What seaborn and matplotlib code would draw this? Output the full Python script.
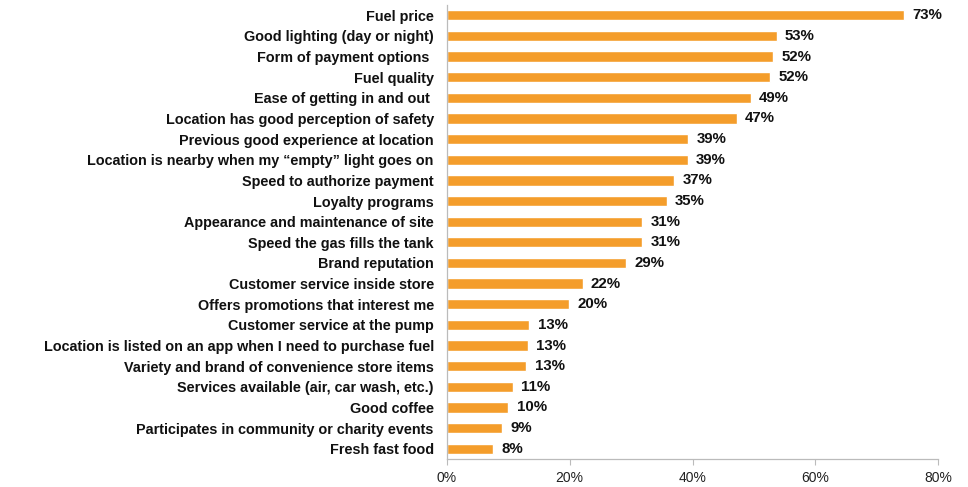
import matplotlib
matplotlib.use("Agg")
import matplotlib.pyplot as plt
import seaborn as sns
import pandas as pd
import numpy as np

categories = [
    "Fuel price",
    "Good lighting (day or night)",
    "Form of payment options ",
    "Fuel quality",
    "Ease of getting in and out ",
    "Location has good perception of safety",
    "Previous good experience at location",
    "Location is nearby when my \u201cempty\u201d light goes on",
    "Speed to authorize payment",
    "Loyalty programs",
    "Appearance and maintenance of site",
    "Speed the gas fills the tank",
    "Brand reputation",
    "Customer service inside store",
    "Offers promotions that interest me",
    "Customer service at the pump",
    "Location is listed on an app when I need to purchase fuel",
    "Variety and brand of convenience store items",
    "Services available (air, car wash, etc.)",
    "Good coffee",
    "Participates in community or charity events",
    "Fresh fast food",
]
values = [74.5, 53.7, 53.1, 52.6, 49.5, 47.2, 39.3, 39.2, 37.0, 35.8, 31.8, 31.8,
          29.2, 22.1, 19.9, 13.4, 13.2, 12.9, 10.7, 10.0, 9.0, 7.5]
value_labels = ["73%", "53%", "52%", "52%", "49%", "47%", "39%", "39%", "37%", "35%",
                "31%", "31%", "29%", "22%", "20%", "13%", "13%", "13%", "11%", "10%",
                "9%", "8%"]
x_ticks = [0, 20, 40, 60, 80]
x_tick_labels = ["0%", "20%", "40%", "60%", "80%"]

df = pd.DataFrame({"category": categories, "value": values})

sns.set_theme(style="white")
plt.rcParams["font.family"] = ["Liberation Sans", "DejaVu Sans"]

fig = plt.figure(figsize=(9.68, 4.87), dpi=100)
ax = fig.add_axes([447 / 968, 1 - 459 / 487, (938 - 447) / 968, (459 - 5) / 487])

bar_color = "#F49D2B"
sns.barplot(data=df, x="value", y="category", orient="h", color=bar_color,
            width=0.5, saturation=1, ax=ax)

ax.set_xlim(0, 80)
ax.set_ylim(len(categories) - 0.5, -0.5)
ax.set_xticks(x_ticks)
ax.set_xticklabels(x_tick_labels, fontsize=10, color="#222222")
ax.set_xlabel("")
ax.set_ylabel("")

for lab in ax.get_yticklabels():
    lab.set_fontweight("bold")
    lab.set_fontsize(10.4)
    lab.set_color("#111111")

ax.tick_params(axis="y", which="major", length=0, pad=9.5)
ax.set_yticks(np.arange(-0.5, len(categories), 1), minor=True)
ax.tick_params(axis="y", which="minor", length=4, width=0.8, color="#BBBBBB", direction="out")
ax.tick_params(axis="x", which="major", length=4, width=0.8, color="#BBBBBB",
               direction="out", pad=5, bottom=True)

for side in ["top", "right"]:
    ax.spines[side].set_visible(False)
for side in ["left", "bottom"]:
    ax.spines[side].set_color("#BBBBBB")
    ax.spines[side].set_linewidth(0.9)

for i, (v, t) in enumerate(zip(values, value_labels)):
    ax.annotate(t, xy=(v, i), xytext=(6, 0), textcoords="offset points",
                va="center", ha="left", fontsize=10.8, fontweight="bold", color="#111111")

fig.savefig("out.png", dpi=100)
